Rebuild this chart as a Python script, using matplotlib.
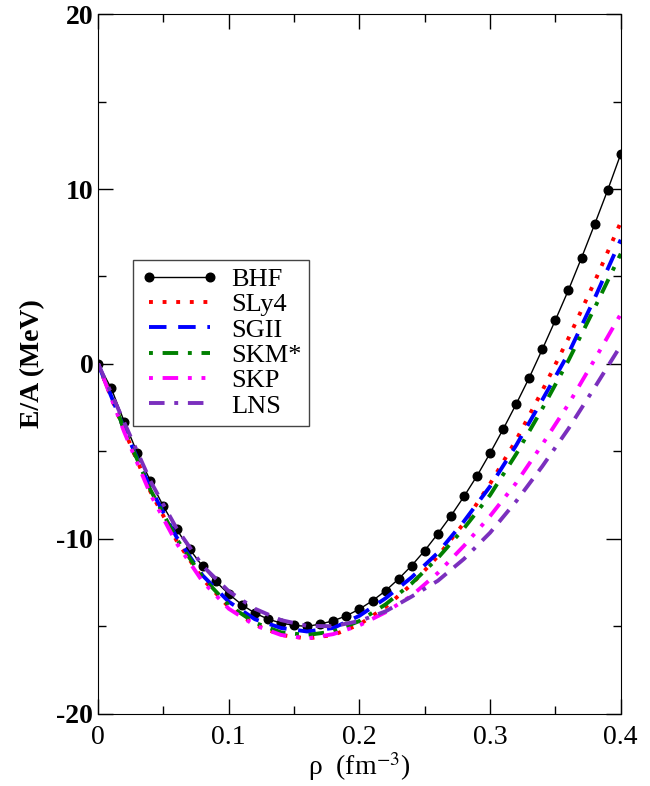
import numpy as np
import matplotlib
matplotlib.use("Agg")
import matplotlib.pyplot as plt

# values
rho_bhf = [0.00, 0.01, 0.02, 0.03, 0.04, 0.05, 0.06, 0.07, 0.08, 0.09, 0.10,
           0.11, 0.12, 0.13, 0.14, 0.15, 0.16, 0.17, 0.18, 0.19, 0.20,
           0.21, 0.22, 0.23, 0.24, 0.25, 0.26, 0.27, 0.28, 0.29, 0.30,
           0.31, 0.32, 0.33, 0.34, 0.35, 0.36, 0.37, 0.38, 0.39, 0.40]
e_bhf = [0.0, -1.39, -3.30, -5.10, -6.69, -8.15, -9.45, -10.59, -11.58, -12.44, -13.16,
         -13.77, -14.25, -14.59, -14.82, -14.95, -15.01, -14.87, -14.69, -14.40, -14.02,
         -13.54, -12.97, -12.29, -11.53, -10.67, -9.71, -8.69, -7.58, -6.40, -5.10,
         -3.73, -2.29, -0.78, 0.84, 2.51, 4.23, 6.07, 7.98, 9.94, 12.0]

rho = [0.00, 0.02, 0.04, 0.06, 0.08, 0.10, 0.12, 0.14, 0.16, 0.18, 0.20,
       0.22, 0.24, 0.26, 0.28, 0.30, 0.32, 0.34, 0.36, 0.38, 0.40]
e_sly4 = [0.0, -3.8, -7.3, -10.1, -12.3, -13.9, -14.9, -15.5, -15.7, -15.5, -14.9,
          -13.9, -12.6, -11.0, -9.1, -6.85, -4.35, -1.52, 1.47, 4.7, 8.1]
e_sgii = [0.0, -3.7, -7.1, -9.9, -12.1, -13.6, -14.6, -15.1, -15.3, -15.1, -14.4,
          -13.4, -12.2, -10.8, -9.0, -7.0, -4.65, -2.05, 0.6, 3.75, 7.1]
e_skm = [0.0, -3.75, -7.2, -10.0, -12.2, -13.8, -14.8, -15.35, -15.5, -15.3, -14.7,
         -13.75, -12.55, -11.1, -9.4, -7.5, -5.15, -2.55, 0.2, 3.2, 6.3]
e_skp = [0.0, -3.9, -7.45, -10.25, -12.45, -14.0, -14.95, -15.5, -15.7, -15.45, -14.95,
         -14.2, -13.25, -11.95, -10.4, -8.7, -6.8, -4.6, -2.3, 0.25, 2.85]
e_lns = [0.0, -3.35, -6.7, -9.4, -11.55, -13.0, -14.0, -14.65, -14.98, -15.0, -14.7,
         -14.15, -13.3, -12.4, -11.15, -9.65, -7.85, -5.85, -3.7, -1.35, 1.05]

plt.rcParams['font.family'] = ['Liberation Serif', 'DejaVu Serif']
plt.rcParams['mathtext.fontset'] = 'stix'
plt.rcParams['axes.unicode_minus'] = False

fig = plt.figure(figsize=(6.5, 7.86), dpi=100)
ax = fig.add_axes([0.151, 0.092, 0.804, 0.890])

lw = 2.8
ax.plot(rho_bhf, e_bhf, color="black", lw=1.0, marker="o", ms=6.2, label="BHF")
ax.plot(rho, e_sly4, color="red", lw=lw, ls=(0, (1, 2.5)), label="SLy4")
ax.plot(rho, e_sgii, color="blue", lw=lw, ls=(0, (4.5, 3)), label="SGII")
ax.plot(rho, e_skm, color="green", lw=lw, ls=(0, (1, 2.5, 4, 2.5)), label="SKM*")
ax.plot(rho, e_skp, color="magenta", lw=lw, ls=(0, (1, 2.5, 4, 2.5, 1, 2.5)), label="SKP")
ax.plot(rho, e_lns, color="#7b2fbe", lw=lw, ls=(0, (4, 2.5, 1, 2.5, 4, 2.5)), label="LNS")

ax.set_xlim(0, 0.4)
ax.set_ylim(-20, 20)
ax.set_xticks([0, 0.1, 0.2, 0.3, 0.4])
ax.set_xticklabels(["0", "0.1", "0.2", "0.3", "0.4"])
ax.set_xticks(np.arange(0, 0.41, 0.05), minor=True)
ax.set_yticks([-20, -10, 0, 10, 20])
ax.set_yticks(np.arange(-20, 21, 5), minor=True)
ax.tick_params(which="both", direction="in", top=True, right=True, labelsize=20)
ax.tick_params(which="major", length=11, width=1)
ax.tick_params(which="minor", length=6, width=1)
ax.tick_params(axis="x", which="major", pad=8)
for t in ax.get_yticklabels():
    t.set_fontweight("bold")

ax.set_xlabel("ρ  (fm$^{-3}$)", fontsize=20, labelpad=0)
ax.set_ylabel("E/A (MeV)", fontsize=20, fontweight="bold", labelpad=8)

leg = ax.legend(loc="upper left", bbox_to_anchor=(0.067, 0.649), fontsize=19,
                handlelength=2.9, handletextpad=0.5, labelspacing=0.07,
                numpoints=2, fancybox=False, framealpha=1, borderpad=0.3,
                borderaxespad=0)
leg.get_frame().set_edgecolor("#444444")
leg.get_frame().set_linewidth(1.0)

fig.savefig("out.png", dpi=100)
